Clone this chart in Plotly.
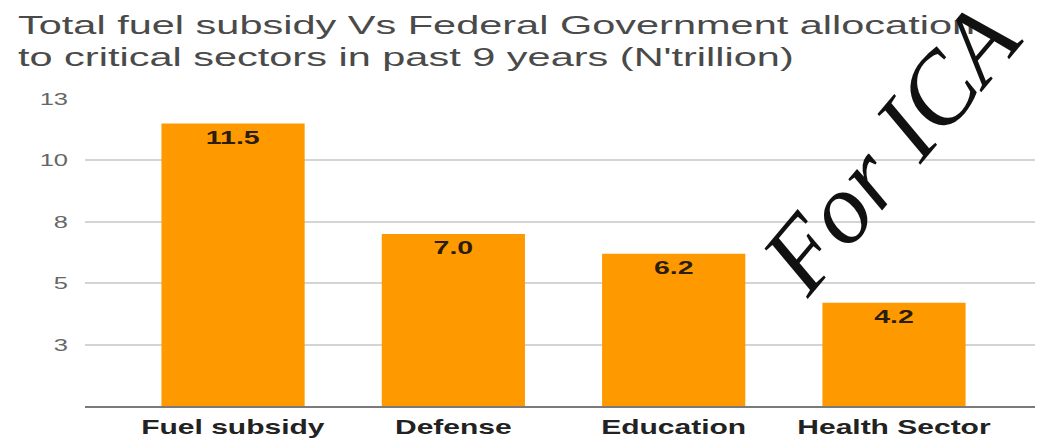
import plotly.graph_objects as go

categories = ["Fuel subsidy", "Defense", "Education", "Health Sector"]
values = [11.5, 7.0, 6.2, 4.2]
ytick_vals = [2.5, 5, 7.5, 10, 12.5]
ytick_text = ["3", "5", "8", "10", "13"]
title_text = "Total fuel subsidy Vs Federal Government allocation<br>to critical sectors in past 9 years (N'trillion)"
watermark = "For ICA"

W, H = 1038, 447
ML, MR, MT, MB = 85, 3, 99, 41

fig = go.Figure()
fig.add_trace(go.Bar(
    x=list(range(len(categories))),
    y=values,
    marker=dict(color="#FF9900", line=dict(width=0)),
    text=[f"{v:.1f}" for v in values],
    textposition="inside",
    insidetextanchor="end",
    textangle=0,
    textfont=dict(family="Liberation Sans", size=19, color="#2b1d0e", weight="bold"),
    cliponaxis=False,
    hoverinfo="skip",
))

fig.update_layout(
    width=W, height=H,
    margin=dict(l=ML, r=MR, t=MT, b=MB, pad=0),
    paper_bgcolor="white", plot_bgcolor="white",
    bargap=0.35,
    showlegend=False,
    title=dict(
        text=title_text,
        font=dict(family="Liberation Sans", size=25, color="#4a4a4a"),
        x=18 / W, xanchor="left", xref="container",
        y=1 - 34 / H, yanchor="top", yref="container",
    ),
    xaxis=dict(
        tickmode="array",
        tickvals=list(range(len(categories))),
        ticktext=categories,
        range=[-0.672, 3.64],
        showgrid=False,
        zeroline=False,
        showline=True, linecolor="#7a7a7a", linewidth=2,
        ticks="",
        tickfont=dict(family="Liberation Sans", size=20, color="#222222", weight="bold"),
        ticklabelstandoff=2,
    ),
    yaxis=dict(
        range=[0, 12.5],
        tickmode="array",
        tickvals=ytick_vals,
        ticktext=ytick_text,
        showgrid=True, gridcolor="#d4d4d4", gridwidth=1.5,
        zeroline=False,
        showline=False,
        ticks="",
        tickfont=dict(family="Liberation Sans", size=17, color="#666666"),
        ticklabelstandoff=16,
    ),
    annotations=[dict(
        text=watermark,
        xref="paper", yref="paper",
        x=(890 - ML) / (W - ML - MR), y=((H - MB) - 148) / (H - MT - MB),
        xanchor="center", yanchor="middle",
        showarrow=False,
        textangle=-50,
        font=dict(family="Liberation Serif", size=100, color="#111111", style="italic"),
    )],
)

post = """
var gd = document.getElementById('{plot_id}');
function stretch(el, s) {
  try {
    var bb = el.getBBox();
    var anc = el.getAttribute('text-anchor') || 'start';
    var ax = anc === 'start' ? bb.x : (anc === 'end' ? bb.x + bb.width : bb.x + bb.width / 2);
    var t = el.getAttribute('transform') || '';
    el.setAttribute('transform', t + ' translate(' + ax + ',0) scale(' + s + ',1) translate(' + (-ax) + ',0)');
  } catch (e) {}
}
gd.querySelectorAll('.gtitle').forEach(function(el){ stretch(el, 1.66); });
gd.querySelectorAll('.xtick text, .ytick text, text.bartext').forEach(function(el){ stretch(el, 1.5); });
"""

fig.write_html("out.html", post_script=post, config={"displayModeBar": False})
